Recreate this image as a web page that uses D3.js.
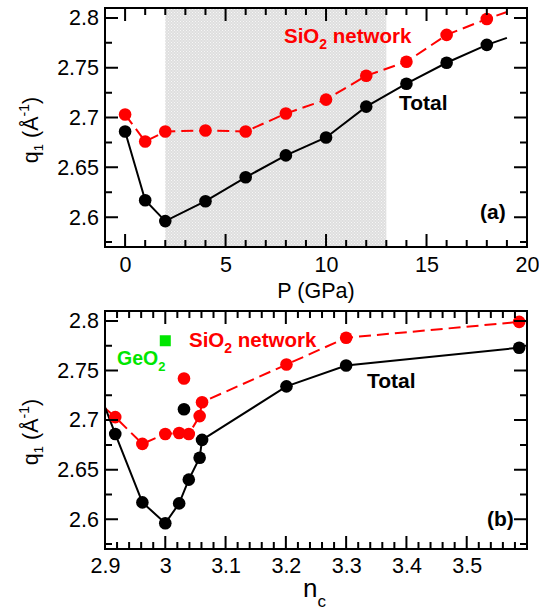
<!DOCTYPE html>
<html lang="en">
<head>
    <meta charset="UTF-8">
    <title>q1 vs pressure and coordination</title>
    <script src="https://d3js.org/d3.v7.min.js"></script>
    <style>
        body { margin: 0; padding: 0; background: #ffffff; overflow: hidden; }
        svg { display: block; font-family: "Liberation Sans", Arial, Helvetica, sans-serif; }
        .tick text { font-size: 21.5px; fill: #000; }
        .frame { fill: none; stroke: #000; stroke-width: 2; }
        .total-line { fill: none; stroke: #000; stroke-width: 2; }
        .network-line { fill: none; stroke: #ff0000; stroke-width: 2; stroke-dasharray: 12,6; }
        .lbl { font-weight: bold; font-size: 20px; }
    </style>
</head>
<body>
<svg id="chart" width="539" height="612"></svg>
<script>
    // --- Data ---
    const pressure   = [0, 1, 2, 4, 6, 8, 10, 12, 14, 16, 18];             // GPa
    const qTotal     = [2.686, 2.617, 2.596, 2.616, 2.640, 2.662, 2.680, 2.711, 2.734, 2.755, 2.773];
    const qNetwork   = [2.703, 2.676, 2.686, 2.687, 2.686, 2.704, 2.718, 2.742, 2.756, 2.783, 2.799];
    const ncAtP      = [2.917, 2.962, 3.000, 3.023, 3.039, 3.057, 3.061, 3.031, 3.201, 3.300, 3.587];
    const offLineP   = [12];                 // drawn in (b) but not joined by the lines

    // line tails with no marker
    const tailP      = [19];
    const tailTotal  = [2.780];
    const tailNet    = [2.806];
    const headNc     = [2.9];
    const headTotal  = [2.713];
    const headNet    = [2.712];

    const geoNc      = [3.0];
    const geoQ       = [2.780];

    const shadedP    = [2, 13];

    const pTicks  = [0, 5, 10, 15, 20];
    const ncTicks = [2.9, 3.0, 3.1, 3.2, 3.3, 3.4, 3.5];
    const qTicks  = [2.6, 2.65, 2.7, 2.75, 2.8];

    // --- Layout ---
    const svg = d3.select("#chart");
    const left = 105, right = 527;
    const panelA = { top: 8, bottom: 247 };
    const panelB = { top: 311, bottom: 549 };
    const fmt = d => String(+d.toFixed(3));

    // dotted gray fill for the shaded region
    const defs = svg.append("defs");
    const pat = defs.append("pattern")
        .attr("id", "dots").attr("width", 3).attr("height", 3)
        .attr("patternUnits", "userSpaceOnUse");
    pat.append("rect").attr("width", 3).attr("height", 3).attr("fill", "#dedede");
    pat.append("rect").attr("x", 0).attr("y", 0).attr("width", 1).attr("height", 1).attr("fill", "#f6f6f6");
    pat.append("rect").attr("x", 1.5).attr("y", 1.5).attr("width", 1).attr("height", 1).attr("fill", "#f6f6f6");

    function drawAxes(g, x, y, top, bottom, xMajor, xMinor, yMajor, yMinor, padX) {
        const major = 13, minor = 7;
        // tick labels from d3 axes (bottom / left)
        const bx = g.append("g").attr("transform", `translate(0,${bottom})`)
            .call(d3.axisBottom(x).tickValues(xMajor).tickFormat(fmt).tickSize(0).tickPadding(padX));
        const ly = g.append("g").attr("transform", `translate(${left},0)`)
            .call(d3.axisLeft(y).tickValues(yMajor).tickFormat(fmt).tickSize(0).tickPadding(6));
        [bx, ly].forEach(a => { a.select(".domain").remove(); a.selectAll(".tick line").remove(); });

        // frame box plus inward tick marks on all four sides, in one path
        const p = d3.path();
        p.rect(left, top, right - left, bottom - top);
        const xMarks = xMajor.map(v => [v, major]).concat(xMinor.map(v => [v, minor]));
        const yMarks = yMajor.map(v => [v, major]).concat(yMinor.map(v => [v, minor]));
        xMarks.forEach(([v, len]) => {
            p.moveTo(x(v), bottom); p.lineTo(x(v), bottom - len);
            p.moveTo(x(v), top);    p.lineTo(x(v), top + len);
        });
        yMarks.forEach(([v, len]) => {
            p.moveTo(left, y(v));  p.lineTo(left + len, y(v));
            p.moveTo(right, y(v)); p.lineTo(right - len, y(v));
        });
        g.append("path").attr("class", "frame").attr("d", p.toString());
    }

    function yLabel(g, cx, cy) {
        const t = g.append("text")
            .attr("transform", `translate(${cx},${cy}) rotate(-90)`)
            .attr("text-anchor", "middle")
            .style("font-size", "21.5px");
        t.append("tspan").text("q");
        t.append("tspan").attr("dy", 5).style("font-size", "13px").text("1");
        t.append("tspan").attr("dy", -5).text(" (Å");
        t.append("tspan").attr("dy", -9).style("font-size", "14px").text("-1");
        t.append("tspan").attr("dy", 9).text(")");
    }

    function subLabel(g, x, y, main, sub, rest, color, size) {
        const t = g.append("text").attr("class", "lbl")
            .attr("x", x).attr("y", y).attr("fill", color).style("font-size", size + "px");
        t.append("tspan").text(main);
        t.append("tspan").attr("dy", 6).style("font-size", Math.round(size * 0.68) + "px").text(sub);
        if (rest) t.append("tspan").attr("dy", -6).text(rest);
    }

    const yA = d3.scaleLinear().domain([2.57, 2.81]).range([panelA.bottom, panelA.top]);
    const yB = d3.scaleLinear().domain([2.57, 2.81]).range([panelB.bottom, panelB.top]);
    const xA = d3.scaleLinear().domain([-1, 20]).range([left, right]);
    const xB = d3.scaleLinear().domain([2.9, 3.6]).range([left, right]);

    const qMinor = d3.range(2.575, 2.81, 0.05).map(v => +v.toFixed(3));
    const pMinor = d3.range(-1, 21, 1).filter(v => v % 5 !== 0);
    const ncMinor = d3.range(2.92, 3.6, 0.02).map(v => +v.toFixed(2))
        .filter(v => Math.abs(v * 10 - Math.round(v * 10)) > 1e-6);

    // ===== Panel (a) =====
    const gA = svg.append("g");
    gA.append("rect")
        .attr("x", xA(shadedP[0])).attr("y", panelA.top)
        .attr("width", xA(shadedP[1]) - xA(shadedP[0]))
        .attr("height", panelA.bottom - panelA.top)
        .attr("fill", "url(#dots)");

    const ptsA = pressure.map((p, i) => ({ p, t: qTotal[i], n: qNetwork[i] }));
    const lineTotA = d3.line().x(d => xA(d.p)).y(d => yA(d.t));
    const lineNetA = d3.line().x(d => xA(d.p)).y(d => yA(d.n));
    const tailA = ptsA.concat(tailP.map((p, i) => ({ p, t: tailTotal[i], n: tailNet[i] })));

    gA.append("path").attr("class", "network-line").attr("d", lineNetA(tailA));
    gA.append("path").attr("class", "total-line").attr("d", lineTotA(tailA));
    gA.selectAll("circle.net").data(ptsA).enter().append("circle")
        .attr("cx", d => xA(d.p)).attr("cy", d => yA(d.n)).attr("r", 6.3).attr("fill", "#ff0000");
    gA.selectAll("circle.tot").data(ptsA).enter().append("circle")
        .attr("cx", d => xA(d.p)).attr("cy", d => yA(d.t)).attr("r", 6.3).attr("fill", "#000");

    drawAxes(gA, xA, yA, panelA.top, panelA.bottom, pTicks, pMinor, qTicks, qMinor, 10);

    subLabel(gA, 284, 43, "SiO", "2", " network", "#ff0000", 20.5);
    gA.append("text").attr("class", "lbl").attr("x", 399).attr("y", 110).style("font-size", "21px").text("Total");
    gA.append("text").attr("class", "lbl").attr("x", 480).attr("y", 219).style("font-size", "21px").text("(a)");
    gA.append("text").attr("x", (left + right) / 2).attr("y", 298).attr("text-anchor", "middle")
        .style("font-size", "21.5px").text("P (GPa)");
    yLabel(gA, 38, 130);

    // ===== Panel (b) =====
    const gB = svg.append("g");
    const ptsB = pressure.map((p, i) => ({ p, nc: ncAtP[i], t: qTotal[i], n: qNetwork[i] }));
    const onLine = ptsB.filter(d => !offLineP.includes(d.p));
    const headB = headNc.map((nc, i) => ({ nc, t: headTotal[i], n: headNet[i] }));
    const lineTotB = d3.line().x(d => xB(d.nc)).y(d => yB(d.t));
    const lineNetB = d3.line().x(d => xB(d.nc)).y(d => yB(d.n));

    gB.append("path").attr("class", "network-line").attr("d", lineNetB(headB.concat(onLine)));
    gB.append("path").attr("class", "total-line").attr("d", lineTotB(headB.concat(onLine)));
    gB.selectAll("circle.net").data(ptsB).enter().append("circle")
        .attr("cx", d => xB(d.nc)).attr("cy", d => yB(d.n)).attr("r", 6.3).attr("fill", "#ff0000");
    gB.selectAll("circle.tot").data(ptsB).enter().append("circle")
        .attr("cx", d => xB(d.nc)).attr("cy", d => yB(d.t)).attr("r", 6.3).attr("fill", "#000");
    gB.selectAll("rect.geo").data(geoNc).enter().append("rect")
        .attr("x", (d) => xB(d) - 5.5).attr("y", (d, i) => yB(geoQ[i]) - 5.5)
        .attr("width", 11).attr("height", 11).attr("fill", "#00e600");

    drawAxes(gB, xB, yB, panelB.top, panelB.bottom, ncTicks, ncMinor, qTicks, qMinor, 9);

    subLabel(gB, 189, 347, "SiO", "2", " network", "#ff0000", 20.5);
    subLabel(gB, 117, 365, "GeO", "2", null, "#00e600", 19.5);
    gB.append("text").attr("class", "lbl").attr("x", 367).attr("y", 388).style("font-size", "21px").text("Total");
    gB.append("text").attr("class", "lbl").attr("x", 487).attr("y", 526).style("font-size", "21px").text("(b)");
    const nLab = gB.append("text").attr("x", 303).attr("y", 597).style("font-size", "26px");
    nLab.append("tspan").text("n");
    nLab.append("tspan").attr("dy", 10).style("font-size", "17px").text("c");
    yLabel(gB, 38, 432);
</script>
</body>
</html>
